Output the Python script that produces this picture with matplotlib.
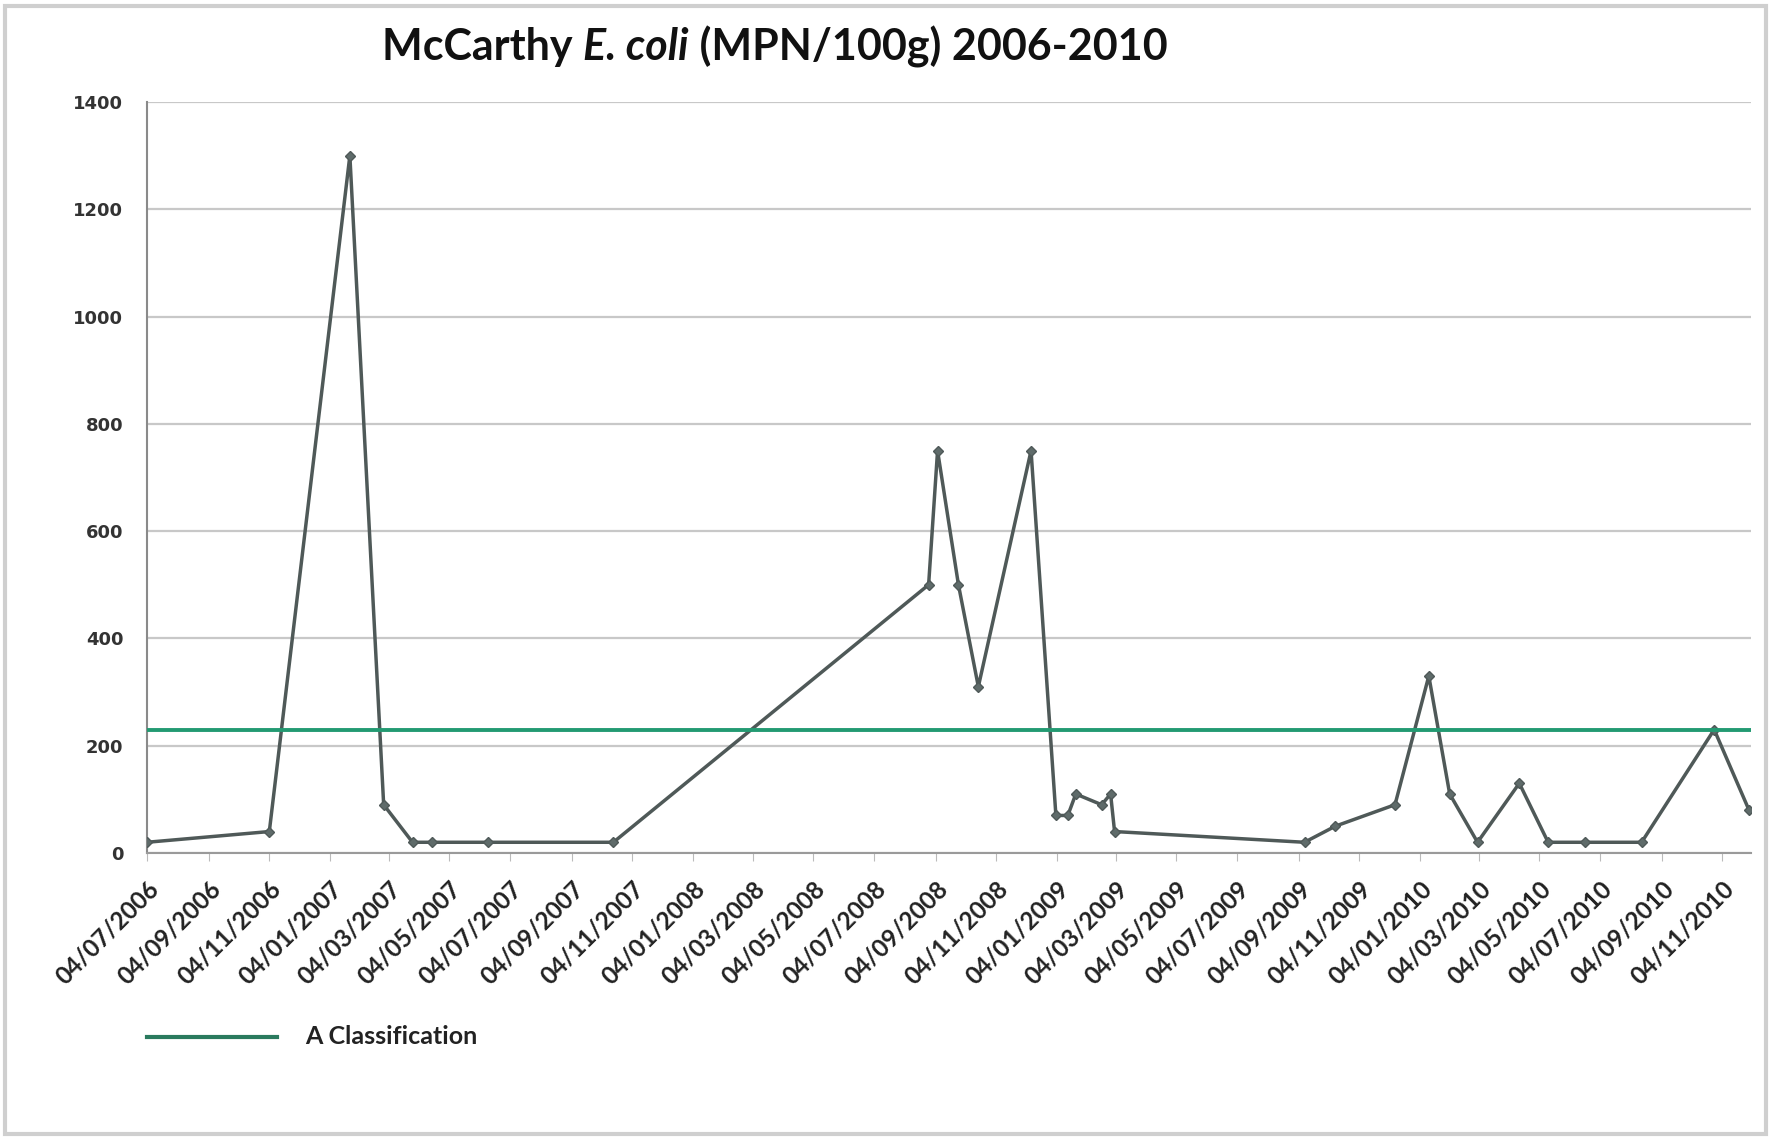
import matplotlib
matplotlib.use("Agg")
import matplotlib.pyplot as plt
from matplotlib.lines import Line2D
from matplotlib.patches import Rectangle
import pandas as pd

# ---- data ----
sample_dates = ['2006-07-04', '2006-11-04', '2007-01-24', '2007-02-27', '2007-03-28',
                '2007-04-17', '2007-06-12', '2007-10-16', '2008-08-28', '2008-09-06',
                '2008-09-27', '2008-10-17', '2008-12-09', '2009-01-03', '2009-01-15',
                '2009-01-23', '2009-02-18', '2009-02-27', '2009-03-03', '2009-09-10',
                '2009-10-11', '2009-12-10', '2010-01-13', '2010-02-03', '2010-03-03',
                '2010-04-14', '2010-05-13', '2010-06-19', '2010-08-15', '2010-10-27',
                '2010-12-01']
ecoli_values = [20, 40, 1300, 90, 20,
                20, 20, 20, 500, 750,
                500, 310, 750, 70, 70,
                110, 90, 110, 40, 20,
                50, 90, 330, 110, 20,
                130, 20, 20, 20, 230,
                80]
a_class_limit = 230
tick_start = '2006-07-04'
tick_end = '2010-11-04'
y_ticks = [0, 200, 400, 600, 800, 1000, 1200, 1400]
legend_label = "A Classification"

dates = pd.to_datetime(sample_dates)
tick_dates = pd.date_range(tick_start, tick_end, freq=pd.DateOffset(months=2))

W, H = 1771, 1137
fig = plt.figure(figsize=(W / 100, H / 100), dpi=100)
fig.patch.set_facecolor('white')

# outer chart frame
fig.add_artist(Rectangle((0.003, 0.003), 0.994, 0.992, transform=fig.transFigure,
                         fill=False, edgecolor='#cfcfcf', linewidth=3))

ax = fig.add_axes([147 / W, 1 - 853 / H, (1751 - 147) / W, (853 - 102) / H])
ax.set_facecolor('white')

ax.plot(dates, ecoli_values, color='#4f5958', linewidth=2.5, marker='D',
        markersize=5.5, markerfacecolor='#5f6b6a', markeredgecolor='#4f5958', zorder=3)
ax.axhline(a_class_limit, color='#239a72', linewidth=2.8, zorder=4)

ax.set_ylim(0, 1400)
ax.set_yticks(y_ticks)
ax.set_yticklabels([str(v) for v in y_ticks], fontsize=13, fontweight='bold',
                   color='#333333', family='DejaVu Sans')
ax.grid(axis='y', color='#c8c8c8', linewidth=1.6)
ax.set_axisbelow(True)

ax.set_xlim(pd.Timestamp('2006-07-04'), pd.Timestamp('2010-12-03'))
ax.set_xticks(tick_dates)
ax.set_xticklabels([d.strftime('%d/%m/%Y') for d in tick_dates], rotation=45,
                   ha='right', rotation_mode='anchor', fontsize=17.5,
                   fontweight='bold', color='#222222', family='Lato')

for s in ['top', 'right']:
    ax.spines[s].set_visible(False)
ax.spines['left'].set_color('#8a8a8a')
ax.spines['left'].set_linewidth(1.5)
ax.spines['bottom'].set_color('#9a9a9a')
ax.spines['bottom'].set_linewidth(1.5)
ax.tick_params(axis='y', length=0, pad=17)
ax.tick_params(axis='x', length=6, color='#bbbbbb', pad=11)

# title with italic part
fig.canvas.draw()
renderer = fig.canvas.get_renderer()
parts = [("McCarthy ", 'normal'), ("E. coli", 'italic'), (" (MPN/100g) 2006-2010", 'normal')]
texts = []
for s, st in parts:
    t = fig.text(0, 1 - 47 / H, s, fontsize=31, fontweight='bold', style=st,
                 family='Lato', va='center', ha='left', color='#111111')
    texts.append(t)
widths = [t.get_window_extent(renderer).width for t in texts]
total = sum(widths)
x = 775 - total / 2
for t, w in zip(texts, widths):
    t.set_x(x / W)
    x += w

# legend
fig.add_artist(Line2D([147 / W, 277 / W], [1 - 1037 / H, 1 - 1037 / H],
                      transform=fig.transFigure, color='#2a7a5e', linewidth=3))
fig.text(305 / W, 1 - 1036 / H, legend_label, fontsize=18, fontweight='bold',
         family='Lato', va='center', ha='left', color='#222222')

fig.savefig('out.png', dpi=100)
